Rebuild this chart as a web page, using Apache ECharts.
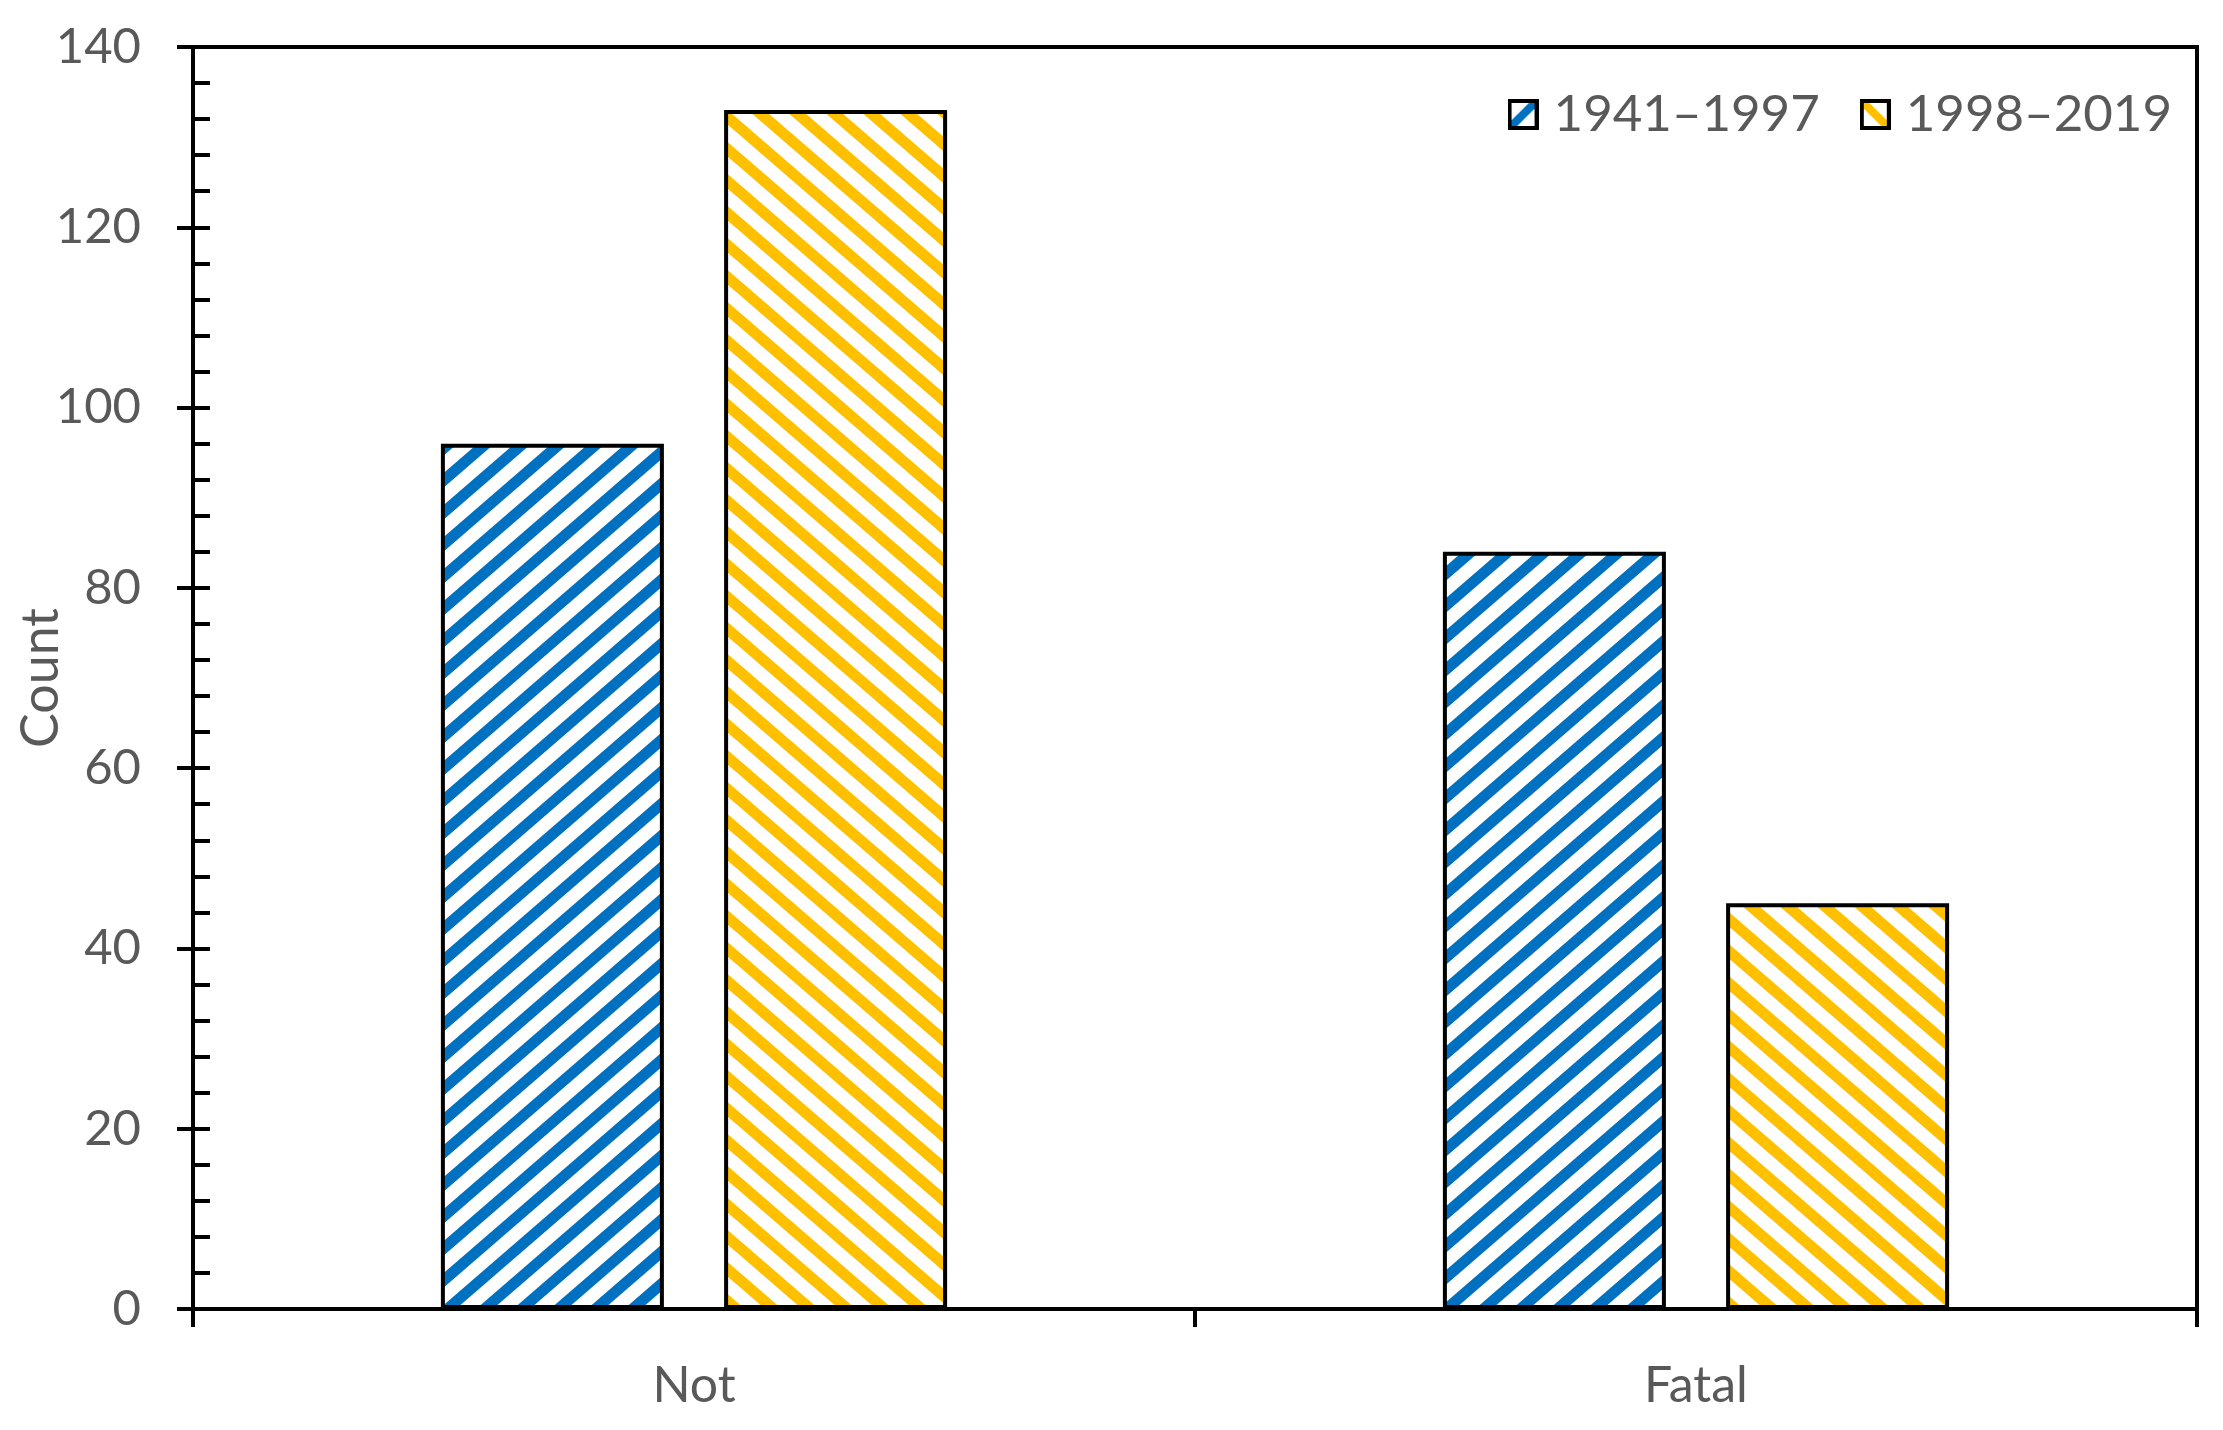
<!DOCTYPE html>
<html>
<head>
<meta charset="utf-8">
<script src="https://cdn.jsdelivr.net/npm/echarts@6/dist/echarts.min.js"></script>
<style>
  html, body { margin: 0; padding: 0; background: #fff; }
  #main { width: 2223px; height: 1430px; }
</style>
</head>
<body>
<div id="main"></div>
<script>
// 数据
var categories = ['Not', 'Fatal']
var seriesNames = ['1941–1997', '1998–2019']
var valuesEarly = [96, 84]
var valuesLate = [133, 45]
var yTicks = [0, 20, 40, 60, 80, 100, 120, 140]

var blue = '#0070C0'
var yellow = '#FFC000'
var textColor = '#595959'
var fontName = 'Lato'

/* 斜线填充图案, dir 1 = '/', -1 = '\' */
function makeStripe (color, dir) {
    var w = 37, h = 32, lw = 11
    var c = document.createElement('canvas')
    c.width = w
    c.height = h
    var ctx = c.getContext('2d')
    ctx.fillStyle = '#fff'
    ctx.fillRect(0, 0, w, h)
    ctx.strokeStyle = color
    ctx.lineWidth = lw
    ctx.beginPath()
    // 三条平行线, 两端延长到图块外, 保证无缝拼接
    for (var k = -1; k <= 1; k++) {
        var ox = k * w
        if (dir > 0) {
            ctx.moveTo(ox - w, 2 * h); ctx.lineTo(ox + 2 * w, -h)
        } else {
            ctx.moveTo(ox - w, -h); ctx.lineTo(ox + 2 * w, 2 * h)
        }
    }
    ctx.stroke()
    return c
}

/* 图例小方块 */
function makeIcon (color, dir) {
    var s = 31
    var c = document.createElement('canvas')
    c.width = s
    c.height = s
    var ctx = c.getContext('2d')
    ctx.fillStyle = '#fff'
    ctx.fillRect(0, 0, s, s)
    ctx.strokeStyle = color
    ctx.lineWidth = 8
    ctx.beginPath()
    if (dir > 0) {
        ctx.moveTo(0, s); ctx.lineTo(s, 0)
    } else {
        ctx.moveTo(0, 0); ctx.lineTo(s, s)
    }
    ctx.stroke()
    ctx.strokeStyle = '#000'
    ctx.lineWidth = 4
    ctx.strokeRect(2, 2, s - 4, s - 4)
    return 'image://' + c.toDataURL()
}

var myChart = echarts.init(document.getElementById('main'))

var option = {
    backgroundColor: '#fff',
    animation: false,
    grid: {
        left: 193,
        right: 26,
        top: 47,
        bottom: 121,
        outerBoundsMode: 'none',
        containLabel: false,
        show: true,
        borderColor: '#000',
        borderWidth: 4
    },
    legend: {
        right: 46,
        top: 84,
        itemWidth: 31,
        itemHeight: 31,
        itemGap: 40,
        textStyle: {
            fontFamily: fontName,
            fontSize: 51,
            color: textColor,
            padding: [0, 0, 0, 10]
        },
        data: [
            { name: seriesNames[0], icon: makeIcon(blue, 1) },
            { name: seriesNames[1], icon: makeIcon(yellow, -1) }
        ]
    },
    xAxis: {
        type: 'category',
        data: categories,
        axisLine: { lineStyle: { color: '#000', width: 4 } },
        axisTick: { show: true, length: 18, lineStyle: { color: '#000', width: 4 } },
        axisLabel: {
            fontFamily: fontName,
            fontSize: 50,
            color: textColor,
            margin: 52
        }
    },
    yAxis: [{
        type: 'value',
        min: yTicks[0],
        max: yTicks[yTicks.length - 1],
        interval: 20,
        name: 'Count',
        nameLocation: 'middle',
        nameRotate: 90,
        nameGap: 126,
        nameMoveOverlap: false,
        nameTextStyle: {
            fontFamily: fontName,
            fontSize: 52,
            color: textColor
        },
        splitLine: { show: false },
        axisLine: { show: true, lineStyle: { color: '#000', width: 4 } },
        axisTick: { show: true, length: 16, lineStyle: { color: '#000', width: 4 } },
        axisLabel: {
            fontFamily: fontName,
            fontSize: 49,
            color: textColor,
            margin: 52
        }
    }, {
        type: 'value',
        position: 'left',
        min: yTicks[0],
        max: yTicks[yTicks.length - 1],
        interval: 20,
        splitLine: { show: false },
        axisLine: { show: false },
        axisLabel: { show: false },
        axisTick: { show: true, inside: true, length: 17, lineStyle: { color: '#000', width: 4 } },
        minorTick: { show: true, splitNumber: 5, length: 17, lineStyle: { color: '#000', width: 4 } }
    }],
    series: [{
        name: seriesNames[0],
        type: 'bar',
        data: valuesEarly,
        barWidth: 223,
        barGap: '27%',
        itemStyle: {
            color: { image: makeStripe(blue, 1), repeat: 'repeat' },
            borderColor: '#000',
            borderWidth: 4
        }
    }, {
        name: seriesNames[1],
        type: 'bar',
        data: valuesLate,
        barWidth: 223,
        barGap: '27%',
        itemStyle: {
            color: { image: makeStripe(yellow, -1), repeat: 'repeat' },
            borderColor: '#000',
            borderWidth: 4
        }
    }]
}

myChart.setOption(option)
window.onresize = myChart.resize
</script>
</body>
</html>
